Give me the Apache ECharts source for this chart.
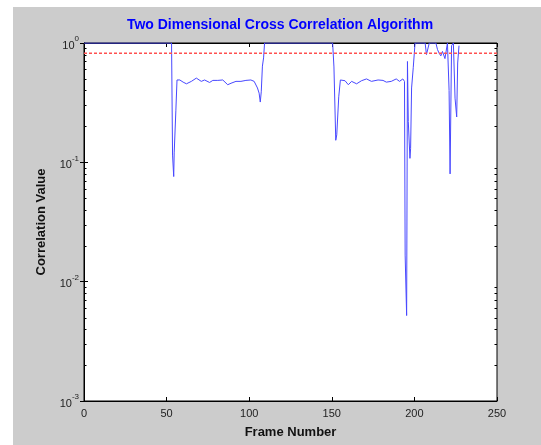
<!DOCTYPE html>
<html><head><meta charset="utf-8">
<script src="https://cdn.jsdelivr.net/npm/echarts@6/dist/echarts.min.js"></script>
<style>
html,body{margin:0;padding:0;background:#fff;}
#bg{position:absolute;left:13px;top:7px;width:528px;height:438px;background:#cccccc;}
#c{position:absolute;left:0;top:0;width:541px;height:445px;}
</style>
</head><body><div id="bg"></div><div id="c"></div>
<script>
// ---- data ----
const titleText = 'Two Dimensional Cross Correlation Algorithm';
const xName = 'Frame Number';
const yName = 'Correlation Value';
const frames = [0,53,53.6,54.3,54.6,55.6,56.3,57,58,60,62,65,68,71,73,76,78,81,84,87,89,92,95,98,101,103,105,106,106.7,107.3,108,108.7,109.3,
  150.5,151.3,152.4,153,154.2,155.2,156,158,160,162,165,168,171,174,178,181,183,186,189,191,193,194,194.4,195.3,195.8,196.3,197.3,197.7,198.3,199.3,200.4,
  206.5,207.3,208.2,209,213,214,215,216,217,218.5,220,221,221.6,222.5,223.6,224.6,225.6,226.2,227];
const corrValues = [1,1,0.115,0.076,0.12,0.27,0.49,0.508,0.49,0.47,0.455,0.477,0.508,0.477,0.49,0.467,0.486,0.486,0.49,0.447,0.46,0.477,0.477,0.486,0.49,0.477,0.42,0.38,0.32,0.39,0.64,0.75,1,
  1,0.63,0.153,0.17,0.354,0.49,0.5,0.483,0.447,0.477,0.455,0.483,0.5,0.477,0.49,0.486,0.47,0.477,0.5,0.477,0.5,0.477,0.0167,0.0052,0.7,0.22,0.108,0.13,0.42,0.62,1,
  1,0.8,0.77,1,1,0.88,0.82,0.78,0.85,0.74,1,0.4,0.08,0.95,1,0.345,0.24,0.68,0.95];
const thresholdFrames = [0, 250];
const thresholdValue = 0.82;
const xMin = 0, xMax = 250, xStep = 50;
const yMin = 0.001, yMax = 1;
const yMinorTicks = [0.002,0.003,0.004,0.005,0.006,0.007,0.008,0.009,
  0.02,0.03,0.04,0.05,0.06,0.07,0.08,0.09,
  0.2,0.3,0.4,0.5,0.6,0.7,0.8,0.9];

const mainData = frames.map((f, i) => [f, corrValues[i]]);
const threshData = thresholdFrames.map(f => [f, thresholdValue]);

const chart = echarts.init(document.getElementById('c'), null, {renderer: 'canvas'});
const FONT = 'Liberation Sans, Arial, sans-serif';
const yLabelFmt = v => {
  const e = Math.round(Math.log10(v));
  return '{b|10}{e|' + e + '}';
};
const yRich = {
  b: {fontSize: 11, fontFamily: FONT, color: '#222', lineHeight: 16, verticalAlign: 'bottom'},
  e: {fontSize: 8, fontFamily: FONT, color: '#222', lineHeight: 16, verticalAlign: 'top'}
};
const axisLineStyle = {color: '#000', width: 1};
chart.setOption({
  backgroundColor: 'transparent',
  animation: false,
  graphic: [{
    type: 'text', x: 280, y: 25,
    style: {text: titleText, fill: '#0000ff', font: 'bold 14px ' + FONT, textAlign: 'center', textVerticalAlign: 'middle'}
  }],
  grid: {left: 84, top: 43, width: 413, height: 358, show: true, backgroundColor: '#fff', borderColor: '#000', borderWidth: 1, containLabel: false},
  xAxis: [{
    type: 'value', min: xMin, max: xMax, interval: xStep, position: 'bottom',
    name: xName, nameLocation: 'middle', nameGap: 25,
    nameTextStyle: {fontFamily: FONT, fontWeight: 'bold', fontSize: 13, color: '#111'},
    axisLine: {show: true, lineStyle: axisLineStyle},
    axisTick: {show: true, inside: true, length: 4, lineStyle: axisLineStyle},
    axisLabel: {fontFamily: FONT, fontSize: 11, color: '#222', margin: 7},
    splitLine: {show: false}
  }, {
    type: 'value', min: xMin, max: xMax, interval: xStep, position: 'top',
    axisLine: {show: true, lineStyle: axisLineStyle},
    axisTick: {show: true, inside: true, length: 4, lineStyle: axisLineStyle},
    axisLabel: {show: false}, splitLine: {show: false}
  }],
  yAxis: [{
    type: 'log', logBase: 10, min: yMin, max: yMax, position: 'left',
    name: yName, nameLocation: 'middle', nameGap: 36, nameRotate: 90,
    nameTextStyle: {fontFamily: FONT, fontWeight: 'bold', fontSize: 13, color: '#111'},
    axisLine: {show: true, lineStyle: axisLineStyle},
    axisTick: {show: true, inside: true, length: 4, lineStyle: axisLineStyle},
    minorTick: {show: false},
    axisLabel: {formatter: yLabelFmt, rich: yRich, margin: 5},
    splitLine: {show: false}
  }, {
    type: 'log', logBase: 10, min: yMin, max: yMax, position: 'right',
    axisLine: {show: true, lineStyle: axisLineStyle},
    axisTick: {show: true, inside: true, length: 4, lineStyle: axisLineStyle},
    minorTick: {show: false},
    axisLabel: {show: false}, splitLine: {show: false}
  }],
  series: [{
    type: 'custom', xAxisIndex: 0, yAxisIndex: 0, silent: true, clip: false,
    data: yMinorTicks.map(v => [xMin, v]),
    renderItem: (params, api) => {
      const v = api.value(1);
      const l = api.coord([xMin, v]);
      const r = api.coord([xMax, v]);
      const s = {stroke: '#000', lineWidth: 1};
      return {type: 'group', children: [
        {type: 'line', shape: {x1: l[0], y1: Math.round(l[1]) + 0.5, x2: l[0] + 2.5, y2: Math.round(l[1]) + 0.5}, style: s},
        {type: 'line', shape: {x1: r[0] - 2.5, y1: Math.round(r[1]) + 0.5, x2: r[0], y2: Math.round(r[1]) + 0.5}, style: s}
      ]};
    }
  }, {
    type: 'line', data: mainData, xAxisIndex: 0, yAxisIndex: 0,
    showSymbol: false, symbol: 'none', clip: true,
    lineStyle: {color: '#4848ff', width: 1}
  }, {
    type: 'line', data: threshData, xAxisIndex: 0, yAxisIndex: 0,
    showSymbol: false, symbol: 'none',
    lineStyle: {color: '#ff5050', width: 1.5, type: [3, 2]}
  }]
});
</script>
</body></html>
